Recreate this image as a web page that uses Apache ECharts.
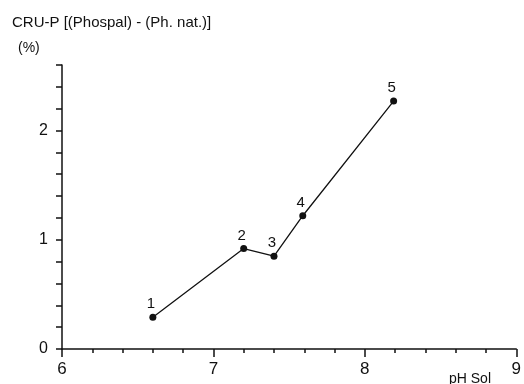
<!DOCTYPE html>
<html><head><meta charset="utf-8">
<script src="https://cdn.jsdelivr.net/npm/echarts@6/dist/echarts.min.js"></script>
<style>html,body{margin:0;padding:0;background:#fff}#c{width:524px;height:384px}</style>
</head><body><div id="c"></div>
<script>
const pointLabels = ['1','2','3','4','5'];
const phValues = [6.60, 7.20, 7.40, 7.59, 8.19];
const cruValues = [0.29, 0.92, 0.85, 1.22, 2.27];
const xTickLabels = ['6','7','8','9'];
const yTickLabels = ['0','1','2'];

const data = phValues.map((x,i)=>({value:[x,cruValues[i]], name:pointLabels[i]}));
const chart = echarts.init(document.getElementById('c'));
const font = 'Liberation Sans, Arial, sans-serif';
chart.setOption({
  animation:false,
  backgroundColor:'#fff',
  grid:{left:62,right:6,top:65,bottom:35},
  title:[
    {text:'CRU-P [(Phospal) - (Ph. nat.)]',left:12,top:15,padding:0,textStyle:{fontFamily:font,fontSize:15,fontWeight:'normal',color:'#111'}},
    {text:'(%)',left:18,top:41,padding:0,textStyle:{fontFamily:font,fontSize:14,fontWeight:'normal',color:'#111'}},
    {text:'pH Sol',left:449,top:372,padding:0,textStyle:{fontFamily:font,fontSize:14,fontWeight:'normal',color:'#111'}}
  ],
  xAxis:{type:'value',min:6,max:9,interval:1,
    axisLine:{lineStyle:{color:'#111',width:1.5}},
    axisTick:{show:true,length:8,inside:false,lineStyle:{color:'#111',width:1.5}},
    minorTick:{show:true,splitNumber:5,length:4,lineStyle:{color:'#111',width:1.5}},
    splitLine:{show:false},
    axisLabel:{fontFamily:font,fontSize:17,color:'#111',margin:12,
      formatter:v=>xTickLabels.includes(String(Math.round(v)))?String(Math.round(v)):''}
  },
  yAxis:{type:'value',min:0,max:2.6,interval:0.2,
    axisLine:{show:true,lineStyle:{color:'#111',width:1.5}},
    axisTick:{show:true,length:6,lineStyle:{color:'#111',width:1.5}},
    splitLine:{show:false},
    axisLabel:{fontFamily:font,fontSize:16,color:'#111',margin:14,
      formatter:v=>{const r=Math.round(v);return Math.abs(v-r)<1e-6&&yTickLabels.includes(String(r))?String(r):'';}}
  },
  series:[{type:'line',data:data,symbol:'circle',symbolSize:7,
    itemStyle:{color:'#111'},lineStyle:{color:'#111',width:1.3},
    label:{show:true,position:'top',offset:[-2,1],distance:3,fontFamily:font,fontSize:15,color:'#111',formatter:p=>p.name}
  }]
});
</script></body></html>
